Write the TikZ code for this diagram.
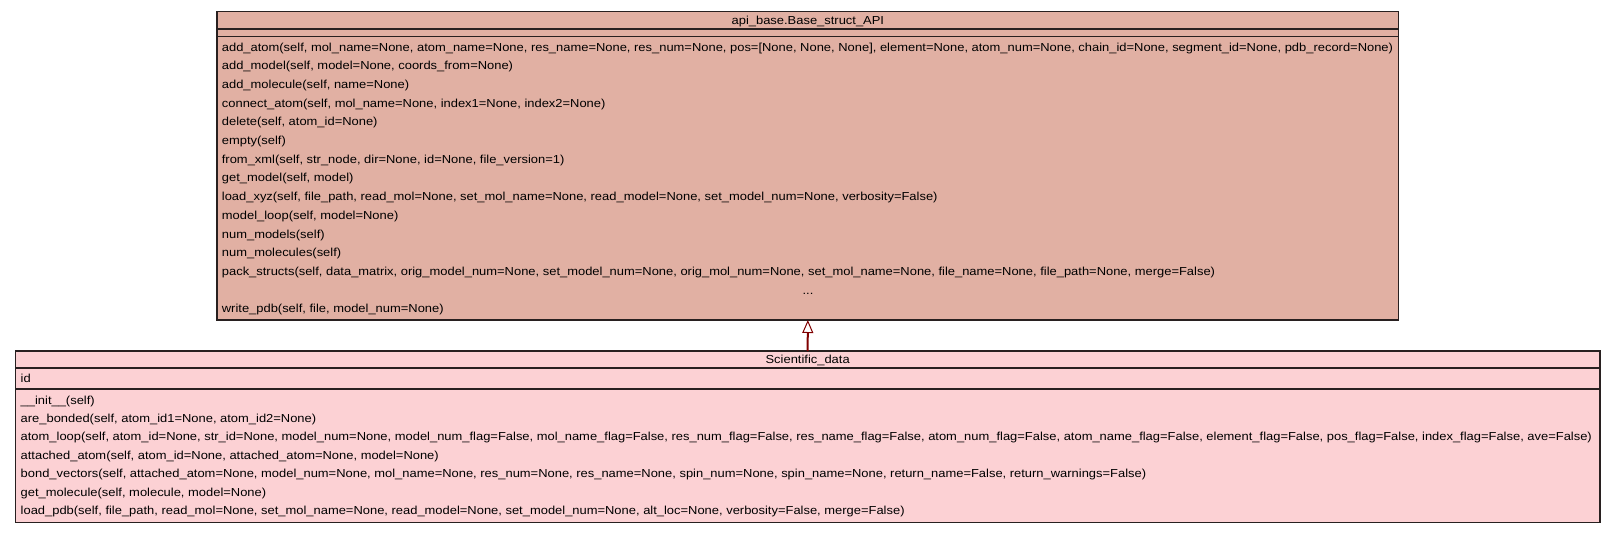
\documentclass[tikz,border=0pt]{standalone}
\usepackage{fontspec}
\setmainfont[FakeStretch=1.115]{Liberation Sans}
\usetikzlibrary{positioning,arrows.meta}
\definecolor{basefill}{RGB}{225,176,163}
\definecolor{scifill}{RGB}{252,209,212}
\definecolor{edgegray}{RGB}{40,32,32}
\definecolor{inheritred}{RGB}{128,0,0}
\tikzset{compart/.style={draw=edgegray, line width=1.3pt, rectangle, inner sep=0pt, outer sep=0pt},
  classname/.style={compart, text height=8.3pt, text depth=0pt, font=\fontsize{11.6}{14}\selectfont},
  oprow/.style={anchor=base west, inner sep=0pt, font=\fontsize{11.6}{14}\selectfont},
  inherit/.style={draw=inheritred, line width=2pt, -{Triangle[open, length=13pt, width=11pt, line width=1pt, fill=white]}}}

\begin{document}
\begin{tikzpicture}[x=1pt, y=-1pt]
\useasboundingbox (0,0) rectangle (1616,533);

% base class
\node[classname, fill=basefill, minimum width=1181.7pt, minimum height=17.3pt, anchor=north west] (basetitle) at (217,11.7) {api\_base.Base\_struct\_API};
\node[compart, fill=basefill, minimum width=1181.7pt, minimum height=7.7pt, below=0pt of basetitle] (baseattrs) {};
\node[compart, fill=basefill, minimum width=1181.7pt, minimum height=283.3pt, below=0pt of baseattrs] (baseops) {};

\foreach \t [count=\i from 0] in {
  {add\_atom(self, mol\_name=None, atom\_name=None, res\_name=None, res\_num=None, pos=[None, None, None], element=None, atom\_num=None, chain\_id=None, segment\_id=None, pdb\_record=None)},
  {add\_model(self, model=None, coords\_from=None)},
  {add\_molecule(self, name=None)},
  {connect\_atom(self, mol\_name=None, index1=None, index2=None)},
  {delete(self, atom\_id=None)},
  {empty(self)},
  {from\_xml(self, str\_node, dir=None, id=None, file\_version=1)},
  {get\_model(self, model)},
  {load\_xyz(self, file\_path, read\_mol=None, set\_mol\_name=None, read\_model=None, set\_model\_num=None, verbosity=False)},
  {model\_loop(self, model=None)},
  {num\_models(self)},
  {num\_molecules(self)},
  {pack\_structs(self, data\_matrix, orig\_model\_num=None, set\_model\_num=None, orig\_mol\_num=None, set\_mol\_name=None, file\_name=None, file\_path=None, merge=False)}}
  \node[oprow] (b\i) at (221.7, 51+18.7*\i) {\t};
\node[oprow, anchor=base] (bdots) at (808, 294.1) {...};
\node[oprow] (bwrite) at (221.7, 312.8) {write\_pdb(self, file, model\_num=None)};

% derived class
\node[classname, fill=scifill, minimum width=1584.7pt, minimum height=17pt, anchor=north west] (scititle) at (15.3,351) {Scientific\_data};
\node[compart, fill=scifill, minimum width=1584.7pt, minimum height=21pt, below=0pt of scititle] (sciattrs) {};
\node[compart, fill=scifill, minimum width=1584.7pt, minimum height=133.7pt, below=0pt of sciattrs] (sciops) {};

\node[oprow] (sid) at (20.5, 382.3) {id};
\foreach \t [count=\i from 0] in {
  {\_\_init\_\_(self)},
  {are\_bonded(self, atom\_id1=None, atom\_id2=None)},
  {atom\_loop(self, atom\_id=None, str\_id=None, model\_num=None, model\_num\_flag=False, mol\_name\_flag=False, res\_num\_flag=False, res\_name\_flag=False, atom\_num\_flag=False, atom\_name\_flag=False, element\_flag=False, pos\_flag=False, index\_flag=False, ave=False)},
  {attached\_atom(self, atom\_id=None, attached\_atom=None, model=None)},
  {bond\_vectors(self, attached\_atom=None, model\_num=None, mol\_name=None, res\_num=None, res\_name=None, spin\_num=None, spin\_name=None, return\_name=False, return\_warnings=False)},
  {get\_molecule(self, molecule, model=None)},
  {load\_pdb(self, file\_path, read\_mol=None, set\_mol\_name=None, read\_model=None, set\_model\_num=None, alt\_loc=None, verbosity=False, merge=False)}}
  \node[oprow] (s\i) at (20.5, 404+18.4*\i) {\t};

\path[inherit] (scititle.north) -- (baseops.south);
\end{tikzpicture}
\end{document}
